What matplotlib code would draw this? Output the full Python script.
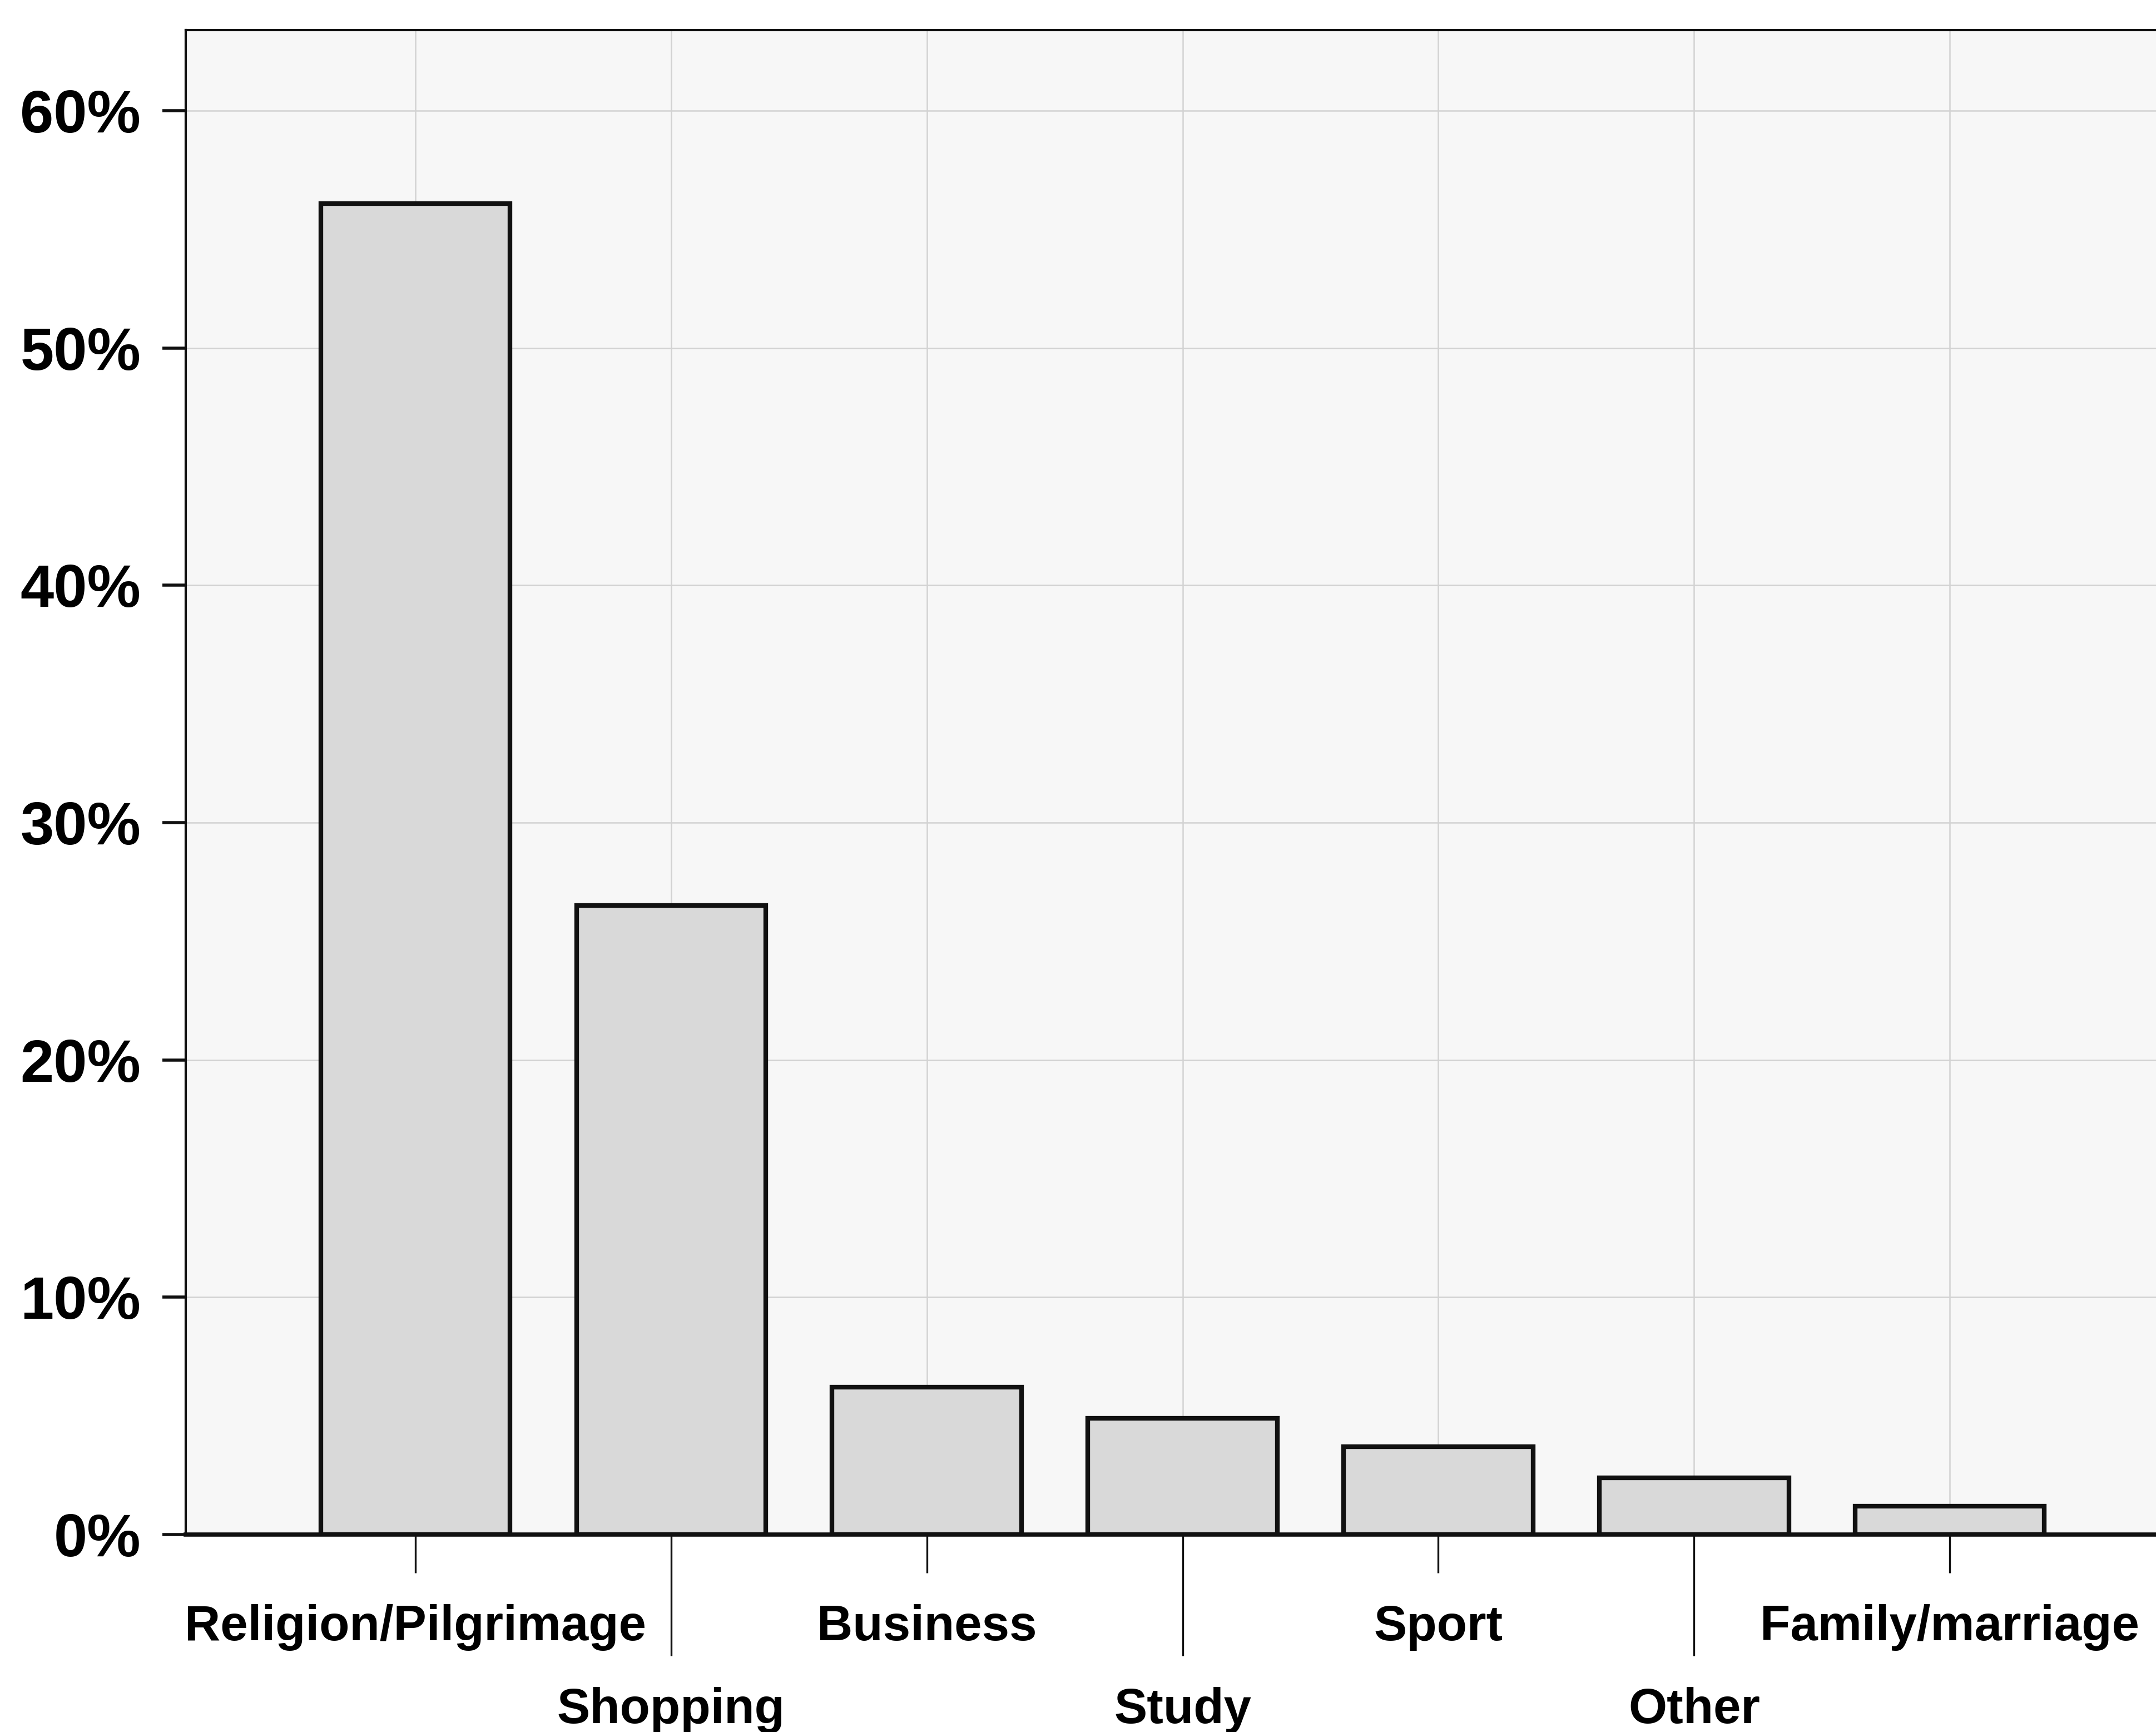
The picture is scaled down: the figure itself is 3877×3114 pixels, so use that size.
import matplotlib
matplotlib.use("Agg")
import matplotlib.pyplot as plt
import numpy as np
from matplotlib.ticker import FuncFormatter

plt.rcParams['font.family'] = ['Liberation Sans', 'DejaVu Sans']
plt.rcParams['font.weight'] = 'bold'

# purpose of visit, share of respondents (%)
categories = ["Religion/Pilgrimage", "Shopping", "Business", "Study",
              "Sport", "Other", "Family/marriage"]
shares = [56.1, 26.5, 6.2, 4.9, 3.7, 2.4, 1.2]
y_ticks = [0, 10, 20, 30, 40, 50, 60]

fig = plt.figure(figsize=(38.77, 31.14), dpi=100)
ax = fig.add_axes([0.0861, 0.114, 1 - 0.0861, 0.9826 - 0.114])
ax.set_facecolor('#f7f7f7')

x = np.arange(len(categories))
ax.bar(x, shares, width=0.74, color='#d9d9d9', edgecolor='#111111',
       linewidth=6, zorder=3)

ax.set_xlim(-0.898, 6.806)
ax.set_ylim(0, 63.4)

# labels alternate between two rows, lower row gets longer ticks
upper = x[::2]
lower = x[1::2]
ax.set_xticks(upper, [categories[i] for i in upper])
ax.set_xticks(lower, [categories[i] for i in lower], minor=True)
ax.tick_params(axis='x', which='major', length=50, width=2.4, pad=40,
               labelsize=64, color='#111111')
ax.tick_params(axis='x', which='minor', length=157, width=2.4, pad=40,
               labelsize=64, color='#111111')

ax.set_yticks(y_ticks)
ax.yaxis.set_major_formatter(FuncFormatter(lambda v, p: f"{v:.0f}%"))
ax.tick_params(axis='y', length=30, width=4, pad=28, labelsize=78,
               color='#111111')

ax.grid(True, which='major', color='#d2d2d2', linewidth=1.8, zorder=0)
ax.grid(True, which='minor', axis='x', color='#d2d2d2', linewidth=1.8, zorder=0)
ax.set_axisbelow(True)

ax.spines['right'].set_visible(False)
ax.spines['top'].set_linewidth(3)
ax.spines['left'].set_linewidth(3)
ax.spines['bottom'].set_linewidth(5.5)
for s in ax.spines.values():
    s.set_color('#111111')
    s.set_zorder(4)

fig.savefig("out.png", dpi=100, facecolor='white')
